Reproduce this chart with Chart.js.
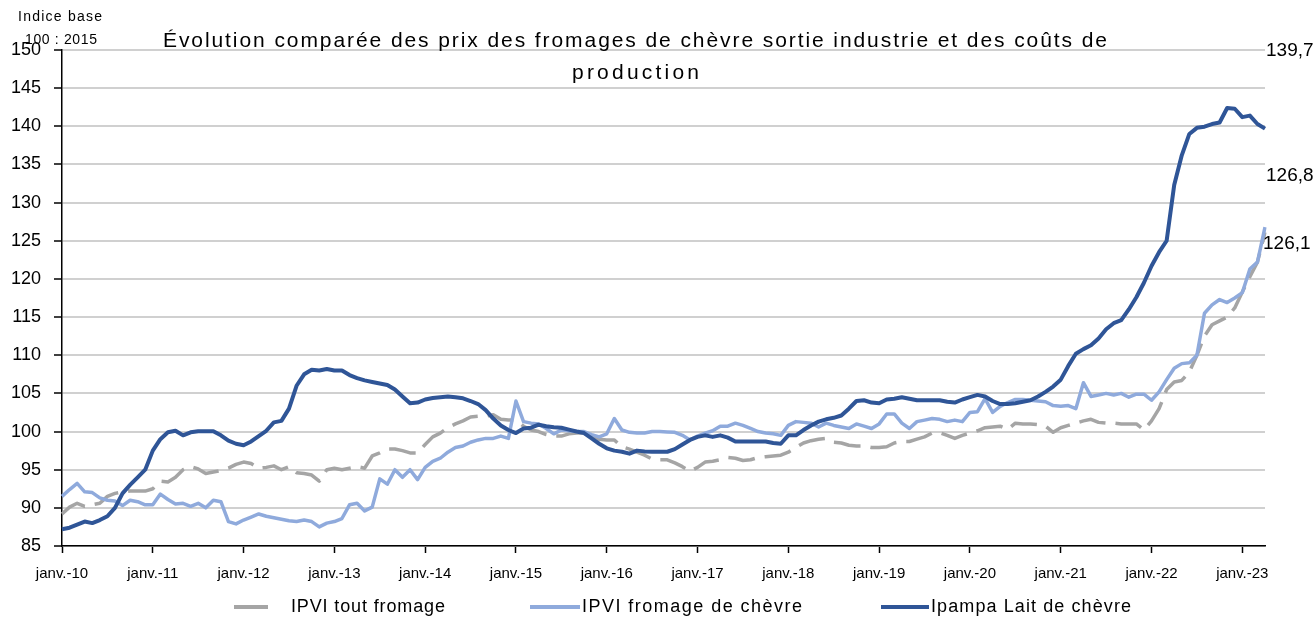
<!DOCTYPE html>
<html lang="fr">
<head>
<meta charset="utf-8">
<title>Évolution comparée des prix des fromages de chèvre</title>
<script src="https://cdn.jsdelivr.net/npm/chart.js@4.4.1/dist/chart.umd.min.js"></script>
<style>
  html, body { margin: 0; padding: 0; background: #fff; }
  #wrap { width: 1315px; height: 619px; }
</style>
</head>
<body>
<div id="wrap"><canvas id="chart" width="1315" height="619"></canvas></div>
<script>
// monthly series, janv. 2010 -> avr. 2023 (indice base 100 : 2015)
const ipviToutFromage = [
  89.2, 90.1, 90.6, 90.2, 90.4, 90.6, 91.5, 91.9, 92.1, 92.2, 92.2, 92.2,
  92.5, 93.5, 93.4, 94.0, 95.0, 95.4, 95.1, 94.5, 94.7, 94.9, 95.2, 95.7,
  96.0, 95.8, 95.2, 95.3, 95.5, 95.0, 95.4, 94.6, 94.5, 94.3, 93.5, 95.0,
  95.2, 95.0, 95.2, 95.4, 95.2, 96.8, 97.2, 97.7, 97.7, 97.5, 97.2, 97.2,
  98.3, 99.3, 99.8, 100.5, 101.0, 101.4, 101.9, 102.0, 102.0, 102.2, 101.6, 101.5,
  101.5, 100.7, 100.2, 100.0, 99.6, 99.4, 99.4, 99.7, 99.8, 99.8, 99.6, 99.0,
  98.9, 98.9, 98.0, 97.7, 97.3, 96.9, 96.4, 96.3, 96.3, 95.9, 95.4, 94.8,
  95.3, 96.0, 96.1, 96.3, 96.6, 96.5, 96.2, 96.3, 96.6, 96.7, 96.8, 96.9,
  97.3, 97.9, 98.5, 98.8, 99.0, 99.1, 98.6, 98.5, 98.2, 98.1, 98.1, 97.9,
  97.9, 98.0, 98.5, 98.7, 98.7, 99.0, 99.3, 99.8, 99.85, 99.5, 99.1, 99.5,
  99.8, 100.1, 100.5, 100.6, 100.7, 100.3, 101.1, 101.0, 101.0, 100.9, 100.7, 99.9,
  100.5, 100.8, 101.1, 101.4, 101.6, 101.2, 101.1, 101.1, 101.0, 101.0, 101.0, 100.2,
  101.4, 103.0, 105.5, 106.5, 106.7, 107.8, 110.0, 112.5, 114.0, 114.5, 115.0, 116.2,
  118.3, 120.3, 122.2, 126.1
];

const ipviFromageChevre = [
  91.5, 92.4, 93.2, 92.1, 92.0, 91.3, 91.0, 90.9, 90.3, 91.0, 90.8, 90.4,
  90.4, 91.8, 91.1, 90.5, 90.6, 90.2, 90.6, 90.0, 91.0, 90.8, 88.2, 87.9,
  88.4, 88.8, 89.2, 88.9, 88.7, 88.5, 88.3, 88.2, 88.4, 88.2, 87.5, 88.0,
  88.2, 88.6, 90.4, 90.6, 89.6, 90.1, 93.8, 93.1, 95.0, 94.0, 95.0, 93.7,
  95.3, 96.1, 96.5, 97.3, 97.9, 98.1, 98.6, 98.9, 99.1, 99.1, 99.4, 99.1,
  104.0, 101.3, 101.1, 101.0, 100.4, 99.7, 100.2, 100.1, 100.0, 100.0, 99.6, 99.3,
  99.7, 101.7, 100.2, 99.9, 99.8, 99.8, 100.0, 100.0, 99.95, 99.9, 99.5, 98.9,
  99.4, 99.8, 100.1, 100.7, 100.7, 101.1, 100.8, 100.4, 100.0, 99.8, 99.7, 99.5,
  100.8, 101.3, 101.2, 101.1, 100.6, 101.1, 100.8, 100.6, 100.4, 101.0, 100.7, 100.4,
  101.0, 102.3, 102.3, 101.1, 100.4, 101.3, 101.5, 101.7, 101.6, 101.3, 101.5, 101.3,
  102.5, 102.6, 104.3, 102.5, 103.3, 103.8, 104.2, 104.2, 104.1, 104.0, 103.9, 103.4,
  103.3, 103.4, 103.0, 106.4, 104.6, 104.8, 105.0, 104.8, 105.0, 104.5, 104.9, 104.9,
  104.1, 105.2, 106.8, 108.3, 108.9, 109.0, 110.0, 115.5, 116.6, 117.3, 116.9, 117.5,
  118.2, 121.3, 122.2, 126.8
];

const ipampaLaitChevre = [
  87.2, 87.4, 87.8, 88.2, 88.0, 88.4, 88.9, 90.0, 91.9, 93.0, 94.0, 95.0,
  97.5, 99.0, 99.9, 100.1, 99.5, 99.9, 100.05, 100.05, 100.05, 99.5, 98.8, 98.4,
  98.2, 98.7, 99.4, 100.1, 101.2, 101.4, 103.0, 106.0, 107.5, 108.1, 108.0, 108.2,
  108.0, 108.0, 107.4, 107.0, 106.7, 106.5, 106.3, 106.1, 105.5, 104.6, 103.7, 103.8,
  104.2, 104.4, 104.5, 104.6, 104.5, 104.35, 104.0, 103.6, 102.8, 101.7, 100.8, 100.2,
  99.8, 100.4, 100.5, 100.9, 100.7, 100.55, 100.5, 100.25, 100.0, 99.8, 99.1, 98.4,
  97.8, 97.5, 97.35, 97.1, 97.5, 97.4, 97.35, 97.35, 97.35, 97.7, 98.3, 98.9,
  99.3, 99.5, 99.3, 99.5, 99.2, 98.7, 98.7, 98.7, 98.7, 98.7, 98.5, 98.4,
  99.5, 99.5, 100.2, 100.8, 101.3, 101.6, 101.8, 102.1, 103.0, 104.0, 104.1, 103.8,
  103.7, 104.2, 104.3, 104.5, 104.3, 104.1, 104.1, 104.1, 104.1, 103.9, 103.8, 104.2,
  104.5, 104.8, 104.6, 104.0, 103.6, 103.6, 103.7, 103.9, 104.1, 104.6, 105.2, 105.9,
  106.8, 108.6, 110.2, 110.8, 111.3, 112.2, 113.4, 114.2, 114.6, 116.0, 117.6, 119.5,
  121.7, 123.5, 125.0, 132.3, 136.2, 139.0, 139.8, 139.95, 140.3, 140.5, 142.4, 142.3,
  141.2, 141.4, 140.3, 139.7
];

const seriesNames = ["IPVI tout fromage", "IPVI fromage de chèvre", "Ipampa Lait de chèvre"];
const endLabels = ["126,1", "126,8", "139,7"];
const monthNames = ["janv.", "févr.", "mars", "avr.", "mai", "juin", "juil.", "août", "sept.", "oct.", "nov.", "déc."];
const firstYear = 2010;

// category labels, one per month
const months = [];
for (let i = 0; i < ipampaLaitChevre.length; i++) {
  const yy = String((firstYear + Math.floor(i / 12)) % 100).padStart(2, "0");
  months.push(monthNames[i % 12] + "-" + yy);
}

const FONT = "'Liberation Sans', Arial, sans-serif";
const colors = ["#A5A5A5", "#8FAADC", "#2F5597"];

// text stretched to a given width (the original has loose letter spacing)
function drawSpaced(ctx, text, left, y, targetWidth) {
  ctx.letterSpacing = "0px";
  const w = ctx.measureText(text).width;
  const gap = text.length > 1 ? (targetWidth - w) / (text.length - 1) : 0;
  ctx.letterSpacing = gap + "px";
  ctx.textAlign = "left";
  ctx.fillText(text, left, y);
  ctx.letterSpacing = "0px";
}

const decorations = {
  id: "decorations",
  afterDraw(chart) {
    const ctx = chart.ctx;
    ctx.save();
    ctx.fillStyle = "#000";
    ctx.textBaseline = "alphabetic";

    // title
    ctx.font = "21px " + FONT;
    drawSpaced(ctx, "Évolution comparée des prix des fromages de chèvre sortie industrie et des coûts de", 163, 47, 944);
    drawSpaced(ctx, "production", 572, 79, 127);

    // unit label
    ctx.font = "14px " + FONT;
    drawSpaced(ctx, "Indice base", 18, 21, 84);
    drawSpaced(ctx, "100 : 2015", 25, 44, 72);

    // last values
    const offsets = [[-2, 11], [1, -51], [1, -78]];
    ctx.font = "19px " + FONT;
    ctx.textBaseline = "middle";
    ctx.textAlign = "left";
    chart.data.datasets.forEach((ds, i) => {
      const pts = chart.getDatasetMeta(i).data;
      const p = pts[pts.length - 1];
      ctx.fillText(endLabels[i], p.x + offsets[i][0], p.y + offsets[i][1]);
    });

    // legend (solid swatches)
    const legendY = 607;
    const items = [
      { x0: 234, x1: 268, tx: 291, tw: 154 },
      { x0: 530, x1: 580, tx: 582, tw: 220 },
      { x0: 881, x1: 929, tx: 931, tw: 200 }
    ];
    ctx.font = "18px " + FONT;
    items.forEach((it, i) => {
      ctx.fillStyle = colors[i];
      ctx.fillRect(it.x0, legendY - 2, it.x1 - it.x0, 4);
      ctx.fillStyle = "#000";
      drawSpaced(ctx, seriesNames[i], it.tx, legendY, it.tw);
    });
    ctx.restore();
  }
};

const ctx = document.getElementById("chart").getContext("2d");
new Chart(ctx, {
  type: "line",
  data: {
    labels: months,
    datasets: [
      {
        label: seriesNames[0],
        data: ipviToutFromage,
        borderColor: colors[0],
        borderWidth: 3.5,
        borderDash: [27, 10],
        order: 3
      },
      {
        label: seriesNames[1],
        data: ipviFromageChevre,
        borderColor: colors[1],
        borderWidth: 3.5,
        order: 2
      },
      {
        label: seriesNames[2],
        data: ipampaLaitChevre,
        borderColor: colors[2],
        borderWidth: 4,
        order: 1
      }
    ]
  },
  options: {
    responsive: false,
    animation: false,
    devicePixelRatio: 1,
    elements: {
      point: { radius: 0, hoverRadius: 0 },
      line: { tension: 0, fill: false, borderJoinStyle: "round" }
    },
    layout: { padding: { left: 0, right: 50, top: 50, bottom: 33 } },
    plugins: {
      legend: { display: false },
      title: { display: false },
      tooltip: { enabled: false }
    },
    scales: {
      x: {
        type: "category",
        offset: false,
        grid: { drawOnChartArea: false, drawTicks: true, tickLength: 7, tickColor: "#000", tickWidth: 1.5 },
        border: { color: "#000", width: 1.5 },
        ticks: {
          autoSkip: false,
          maxRotation: 0,
          minRotation: 0,
          padding: 12,
          color: "#000",
          font: { family: FONT, size: 15 },
          callback: function (val) {
            const l = this.getLabelForValue(val);
            return l.startsWith("janv.") ? l : null;
          }
        },
        afterFit: (s) => { s.height = 40; }
      },
      y: {
        min: 85,
        max: 150,
        grid: { color: "#d0d0d0", lineWidth: 2, drawTicks: true, tickLength: 8, tickColor: "#000", tickWidth: 1.5 },
        border: { color: "#000", width: 1.5 },
        ticks: {
          stepSize: 5,
          padding: 13,
          color: "#000",
          font: { family: FONT, size: 18 }
        },
        afterFit: (s) => { s.width = 62; }
      }
    }
  },
  plugins: [decorations]
});
</script>
</body>
</html>
